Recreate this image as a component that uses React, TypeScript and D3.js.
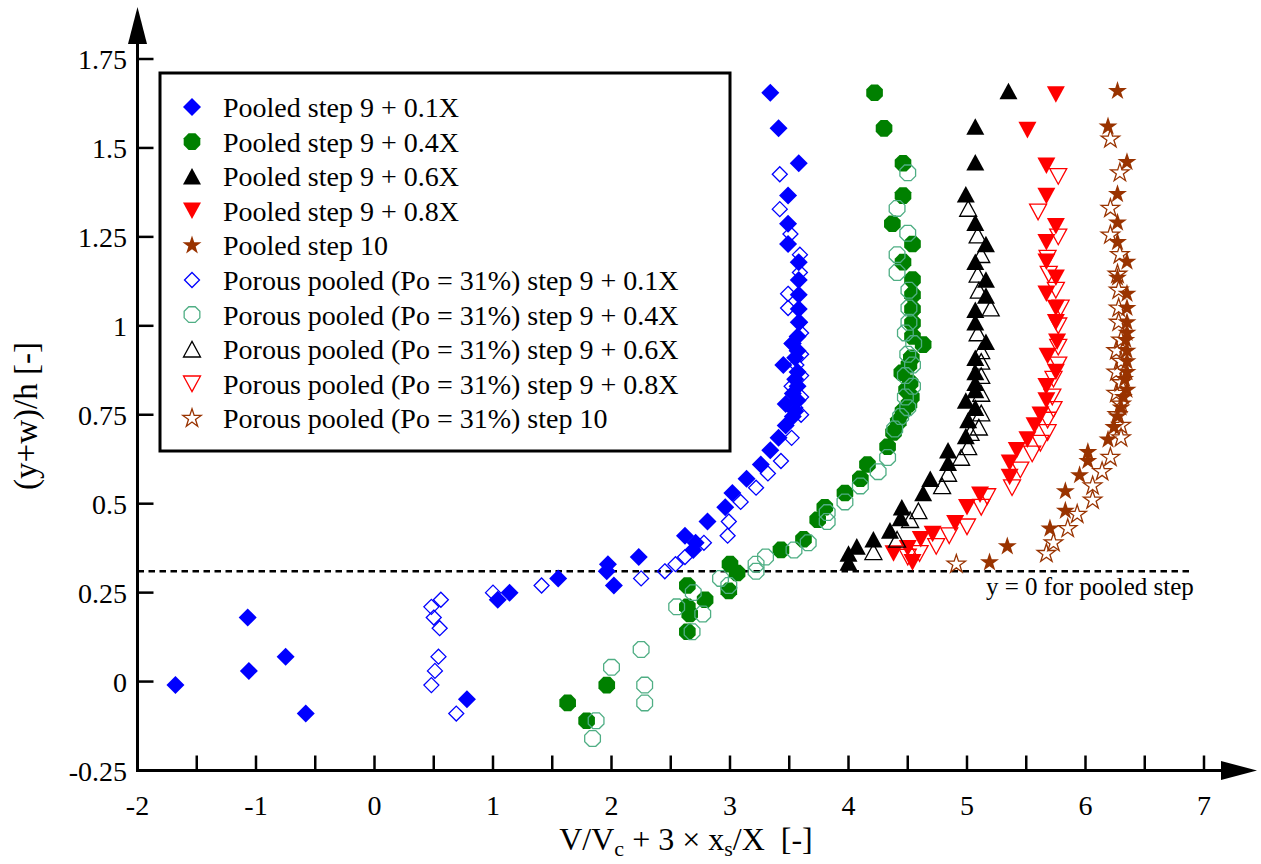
import React from "react";
import * as d3 from "d3";

// ---------- data ----------
const X_TICKS = [-2, -1, 0, 1, 2, 3, 4, 5, 6, 7];
const X_MINOR = [-1.5, -0.5, 0.5, 1.5, 2.5, 3.5, 4.5, 5.5, 6.5];
const Y_TICKS = [-0.25, 0, 0.25, 0.5, 0.75, 1, 1.25, 1.5, 1.75];
const Y_TICK_LABELS = ["-0.25", "0", "0.25", "0.5", "0.75", "1", "1.25", "1.5", "1.75"];
const POOLED_Y0 = 0.31;

const pooled01: [number, number][] = [
  [-1.68, -0.01], [-1.07, 0.18], [-1.06, 0.03], [-0.75, 0.07], [-0.58, -0.09], [0.78, -0.05],
  [1.04, 0.23], [1.14, 0.25], [1.55, 0.29], [1.97, 0.33], [1.96, 0.31], [2.02, 0.27], [2.23, 0.35],
  [2.62, 0.41], [2.69, 0.37], [2.71, 0.39], [2.81, 0.45], [2.96, 0.49], [3.02, 0.53], [3.14, 0.57],
  [3.26, 0.61], [3.34, 0.65], [3.41, 0.685], [3.47, 0.72], [3.53, 0.745], [3.55, 0.76], [3.47, 0.78],
  [3.57, 0.79], [3.53, 0.81], [3.57, 0.83], [3.55, 0.85], [3.57, 0.87], [3.45, 0.89], [3.55, 0.91],
  [3.57, 0.93], [3.53, 0.95], [3.57, 0.97], [3.58, 1.01], [3.58, 1.047], [3.58, 1.087], [3.58, 1.129],
  [3.58, 1.179], [3.49, 1.23], [3.49, 1.287], [3.49, 1.366], [3.58, 1.457], [3.41, 1.555], [3.34, 1.655],
];
const pooled04: [number, number][] = [
  [1.63, -0.06], [1.79, -0.11], [1.96, -0.01], [2.64, 0.14], [2.66, 0.19], [2.64, 0.21], [2.79, 0.23],
  [2.64, 0.27], [2.99, 0.255], [3.06, 0.305], [3.0, 0.33], [3.43, 0.37], [3.62, 0.4], [3.74, 0.455],
  [3.8, 0.49], [3.97, 0.53], [4.1, 0.57], [4.16, 0.61], [4.33, 0.66], [4.38, 0.7], [4.42, 0.73],
  [4.46, 0.76], [4.51, 0.78], [4.53, 0.8], [4.49, 0.82], [4.52, 0.84], [4.45, 0.868], [4.51, 0.89],
  [4.53, 0.91], [4.63, 0.947], [4.54, 0.97], [4.54, 1.008], [4.54, 1.047], [4.54, 1.087], [4.54, 1.13],
  [4.46, 1.179], [4.54, 1.23], [4.37, 1.287], [4.46, 1.366], [4.46, 1.457], [4.3, 1.555], [4.22, 1.655],
];
const pooled06: [number, number][] = [
  [4.0, 0.335], [4.0, 0.36], [4.07, 0.38], [4.21, 0.4], [4.35, 0.425], [4.44, 0.46], [4.45, 0.49],
  [4.63, 0.53], [4.69, 0.57], [4.84, 0.615], [4.84, 0.65], [4.99, 0.69], [5.01, 0.735], [5.07, 0.77],
  [4.99, 0.79], [5.07, 0.82], [5.07, 0.84], [5.07, 0.87], [5.07, 0.91], [5.16, 0.955], [5.07, 1.01],
  [5.07, 1.045], [5.16, 1.085], [5.16, 1.13], [5.07, 1.18], [5.16, 1.23], [5.07, 1.29], [4.99, 1.37],
  [5.07, 1.46], [5.07, 1.56], [5.35, 1.66],
];
const pooled08: [number, number][] = [
  [4.54, 0.335], [4.38, 0.36], [4.5, 0.375], [4.61, 0.4], [4.71, 0.415], [4.9, 0.445], [5.0, 0.49],
  [5.11, 0.525], [5.36, 0.575], [5.36, 0.615], [5.42, 0.65], [5.51, 0.68], [5.57, 0.72], [5.62, 0.75],
  [5.67, 0.79], [5.67, 0.83], [5.75, 0.87], [5.68, 0.915], [5.76, 0.955], [5.75, 1.01], [5.75, 1.05],
  [5.67, 1.09], [5.75, 1.135], [5.67, 1.18], [5.67, 1.235], [5.75, 1.28], [5.67, 1.365], [5.67, 1.45],
  [5.51, 1.55], [5.75, 1.65],
];
const pooled10: [number, number][] = [
  [5.19, 0.335], [5.34, 0.38], [5.7, 0.43], [5.83, 0.48], [5.83, 0.535], [5.95, 0.58], [6.02, 0.62],
  [6.02, 0.645], [6.19, 0.68], [6.24, 0.715], [6.27, 0.745], [6.3, 0.77], [6.32, 0.8], [6.35, 0.82],
  [6.33, 0.85], [6.35, 0.87], [6.35, 0.9], [6.35, 0.93], [6.34, 0.96], [6.35, 0.98], [6.35, 1.01],
  [6.35, 1.05], [6.35, 1.09], [6.27, 1.135], [6.35, 1.18], [6.27, 1.235], [6.27, 1.29], [6.27, 1.37],
  [6.35, 1.46], [6.19, 1.56], [6.27, 1.66],
];
const porous01: [number, number][] = [
  [0.48, -0.01], [0.51, 0.03], [0.54, 0.07], [0.69, -0.09], [0.55, 0.15], [0.5, 0.18], [0.48, 0.21],
  [0.56, 0.23], [1.0, 0.25], [1.41, 0.27], [2.25, 0.29], [2.45, 0.31], [2.54, 0.33], [2.62, 0.35],
  [2.78, 0.39], [2.98, 0.41], [2.99, 0.45], [3.09, 0.505], [3.22, 0.545], [3.32, 0.585], [3.43, 0.62],
  [3.52, 0.685], [3.6, 0.75], [3.55, 0.77], [3.6, 0.8], [3.52, 0.83], [3.6, 0.86], [3.56, 0.89],
  [3.6, 0.92], [3.52, 0.95], [3.6, 0.98], [3.59, 1.01], [3.49, 1.05], [3.49, 1.09], [3.59, 1.15],
  [3.59, 1.2], [3.51, 1.258], [3.42, 1.328], [3.42, 1.426],
];
const porous04: [number, number][] = [
  [1.84, -0.16], [1.87, -0.11], [2.0, 0.04], [2.25, 0.09], [2.28, -0.01], [2.28, -0.06], [2.55, 0.21],
  [2.69, 0.25], [2.77, 0.19], [2.68, 0.14], [2.92, 0.29], [2.99, 0.27], [3.22, 0.31], [3.22, 0.33],
  [3.3, 0.35], [3.54, 0.37], [3.66, 0.39], [3.82, 0.45], [3.82, 0.475], [3.97, 0.505], [4.1, 0.55],
  [4.25, 0.59], [4.33, 0.63], [4.39, 0.71], [4.44, 0.745], [4.5, 0.77], [4.48, 0.8], [4.54, 0.83],
  [4.48, 0.86], [4.54, 0.89], [4.5, 0.92], [4.55, 0.95], [4.48, 0.98], [4.51, 1.01], [4.51, 1.05],
  [4.51, 1.1], [4.41, 1.15], [4.41, 1.2], [4.5, 1.26], [4.41, 1.33], [4.5, 1.43],
];
const porous06: [number, number][] = [
  [4.21, 0.365], [4.41, 0.4], [4.52, 0.455], [4.59, 0.48], [4.79, 0.55], [4.84, 0.585], [4.95, 0.63],
  [5.01, 0.66], [5.03, 0.7], [5.1, 0.715], [5.12, 0.755], [5.12, 0.81], [5.12, 0.86], [5.12, 0.9],
  [5.12, 0.93], [5.09, 0.98], [5.2, 1.05], [5.1, 1.1], [5.09, 1.145], [5.12, 1.2], [5.09, 1.255],
  [5.01, 1.33],
];
const porous08: [number, number][] = [
  [4.5, 0.35], [4.6, 0.36], [4.74, 0.38], [4.85, 0.41], [5.0, 0.435], [5.12, 0.49], [5.17, 0.52],
  [5.38, 0.545], [5.45, 0.595], [5.55, 0.64], [5.62, 0.67], [5.68, 0.7], [5.68, 0.735], [5.73, 0.765],
  [5.72, 0.8], [5.73, 0.85], [5.77, 0.89], [5.77, 0.94], [5.77, 1.0], [5.79, 1.05], [5.75, 1.1],
  [5.69, 1.145], [5.68, 1.19], [5.77, 1.25], [5.6, 1.32], [5.77, 1.42],
];
const porous10: [number, number][] = [
  [4.91, 0.33], [5.67, 0.36], [5.73, 0.39], [5.85, 0.43], [5.93, 0.47], [6.06, 0.51], [6.06, 0.55],
  [6.14, 0.59], [6.21, 0.63], [6.3, 0.685], [6.3, 0.72], [6.27, 0.75], [6.3, 0.78], [6.26, 0.81],
  [6.3, 0.84], [6.26, 0.87], [6.3, 0.9], [6.26, 0.93], [6.3, 0.96], [6.28, 1.01], [6.28, 1.05],
  [6.28, 1.1], [6.27, 1.145], [6.29, 1.2], [6.21, 1.255], [6.21, 1.33], [6.29, 1.43], [6.21, 1.525],
];

const SERIES_NAMES = [
  "Pooled step 9 + 0.1X",
  "Pooled step 9 + 0.4X",
  "Pooled step 9 + 0.6X",
  "Pooled step 9 + 0.8X",
  "Pooled step 10",
  "Porous pooled (Po = 31%) step 9 + 0.1X",
  "Porous pooled (Po = 31%) step 9 + 0.4X",
  "Porous pooled (Po = 31%) step 9 + 0.6X",
  "Porous pooled (Po = 31%) step 9 + 0.8X",
  "Porous pooled (Po = 31%) step 10",
];
const SERIES_DATA = [pooled01, pooled04, pooled06, pooled08, pooled10, porous01, porous04, porous06, porous08, porous10];

// ---------- symbols ----------
const diamondType = {
  draw(ctx: any, size: number) {
    const r = Math.sqrt(size / 2);
    ctx.moveTo(0, -r); ctx.lineTo(r, 0); ctx.lineTo(0, r); ctx.lineTo(-r, 0); ctx.closePath();
  },
};
const octagonType = {
  draw(ctx: any, size: number) {
    const r = Math.sqrt(size / (2 * Math.SQRT2));
    for (let i = 0; i < 8; i++) {
      const a = Math.PI / 8 + (i * Math.PI) / 4;
      const px = r * Math.cos(a), py = r * Math.sin(a);
      if (i === 0) ctx.moveTo(px, py); else ctx.lineTo(px, py);
    }
    ctx.closePath();
  },
};
const triUpType = {
  draw(ctx: any, size: number) {
    const w = Math.sqrt(size / 0.46), h = 0.92 * w;
    ctx.moveTo(0, -h / 2); ctx.lineTo(w / 2, h / 2); ctx.lineTo(-w / 2, h / 2); ctx.closePath();
  },
};
const triDownType = {
  draw(ctx: any, size: number) {
    const w = Math.sqrt(size / 0.46), h = 0.92 * w;
    ctx.moveTo(0, h / 2); ctx.lineTo(w / 2, -h / 2); ctx.lineTo(-w / 2, -h / 2); ctx.closePath();
  },
};

const STYLES = [
  { type: diamondType, size: 162, fill: "#0000ff", stroke: "none" },
  { type: octagonType, size: 229, fill: "#008000", stroke: "none" },
  { type: triUpType, size: 149, fill: "#000000", stroke: "none" },
  { type: triDownType, size: 149, fill: "#ff0000", stroke: "none" },
  { type: d3.symbolStar, size: 112, fill: "#993300", stroke: "none" },
  { type: diamondType, size: 112, fill: "none", stroke: "#0000ff" },
  { type: octagonType, size: 204, fill: "none", stroke: "#4fae84" },
  { type: triUpType, size: 133, fill: "none", stroke: "#000000" },
  { type: triDownType, size: 133, fill: "none", stroke: "#ff0000" },
  { type: d3.symbolStar, size: 105, fill: "none", stroke: "#993300" },
];

const FONT = "Liberation Serif";

export default function App() {
  const x = d3.scaleLinear().domain([-2, 7]).range([137.5, 1204]);
  const y = d3.scaleLinear().domain([-0.25, 1.75]).range([770.5, 59]);
  const x0 = x(-2);
  const yb = y(-0.25);

  const symPath = (i: number) => d3.symbol().type(STYLES[i].type as any).size(STYLES[i].size)() as string;

  return (
    <svg
      width={1261}
      height={864}
      style={{ position: "absolute", left: 0, top: 0, background: "#fff" }}
    >
      <rect x={0} y={0} width={1261} height={864} fill="#fff" />

      {/* dashed pooled step line */}
      <line x1={x0} x2={1193} y1={y(POOLED_Y0)} y2={y(POOLED_Y0)} stroke="#000" strokeWidth={2.5} strokeDasharray="6.5,4.5" />
      <text x={986} y={595} fontSize={25} fill="#000" fontFamily={FONT}>y = 0 for pooled step</text>

      {/* series */}
      {SERIES_DATA.map((data, si) => {
        const p = symPath(si);
        const st = STYLES[si];
        return (
          <g key={si}>
            {data.map((d, j) => (
              <path
                key={j}
                d={p}
                transform={`translate(${x(d[0])},${y(d[1])})`}
                fill={st.fill}
                stroke={st.stroke}
                strokeWidth={st.stroke === "none" ? 0 : 1.3}
              />
            ))}
          </g>
        );
      })}

      {/* axes */}
      <line x1={x0} x2={x0} y1={yb + 1.5} y2={40} stroke="#000" strokeWidth={3} />
      <path d={`M${x0},7 L${x0 + 9.5},44 L${x0 - 9.5},44 Z`} fill="#000" />
      <line x1={x0 - 1.5} x2={1224} y1={yb} y2={yb} stroke="#000" strokeWidth={3} />
      <path d={`M1257,${yb} L1221,${yb - 9.5} L1221,${yb + 9.5} Z`} fill="#000" />

      {Y_TICKS.map((t, i) => (
        <g key={"yt" + i}>
          <line x1={x0} x2={x0 + 16} y1={y(t)} y2={y(t)} stroke="#000" strokeWidth={2.5} />
          <text x={127} y={y(t) + 10} textAnchor="end" fontSize={28} fill="#000" fontFamily={FONT}>{Y_TICK_LABELS[i]}</text>
        </g>
      ))}
      {X_TICKS.map((t) => (
        <g key={"xt" + t}>
          <line x1={x(t)} x2={x(t)} y1={yb} y2={yb - 15} stroke="#000" strokeWidth={2.5} />
          <text x={x(t)} y={815} textAnchor="middle" fontSize={28} fill="#000" fontFamily={FONT}>{String(t)}</text>
        </g>
      ))}
      {X_MINOR.map((t) => (
        <line key={"xm" + t} x1={x(t)} x2={x(t)} y1={yb} y2={yb - 15} stroke="#000" strokeWidth={2.5} />
      ))}

      {/* axis titles */}
      <text x={686} y={850} textAnchor="middle" fontSize={32} fill="#000" fontFamily={FONT} style={{ whiteSpace: "pre" }}>
        V/V<tspan dy={6} fontSize={22}>c</tspan>
        <tspan dy={-6}> + 3 × x</tspan>
        <tspan dy={6} fontSize={22}>s</tspan>
        <tspan dy={-6}>/X  [-]</tspan>
      </text>
      <text
        transform={`translate(37,416) rotate(-90)`}
        textAnchor="middle"
        fontSize={33}
        fill="#000"
        fontFamily={FONT}
      >
        (y+w)/h [-]
      </text>

      {/* legend */}
      <rect x={160} y={73} width={570} height={378} fill="#fff" stroke="#000" strokeWidth={3} />
      {SERIES_NAMES.map((name, i) => {
        const cy = 107 + i * 34.6;
        const st = STYLES[i];
        return (
          <g key={"lg" + i}>
            <path
              d={symPath(i)}
              transform={`translate(192,${cy})`}
              fill={st.fill}
              stroke={st.stroke}
              strokeWidth={st.stroke === "none" ? 0 : 1.3}
            />
            <text x={223} y={cy + 10} fontSize={28} fill="#000" fontFamily={FONT}>{name}</text>
          </g>
        );
      })}
    </svg>
  );
}
